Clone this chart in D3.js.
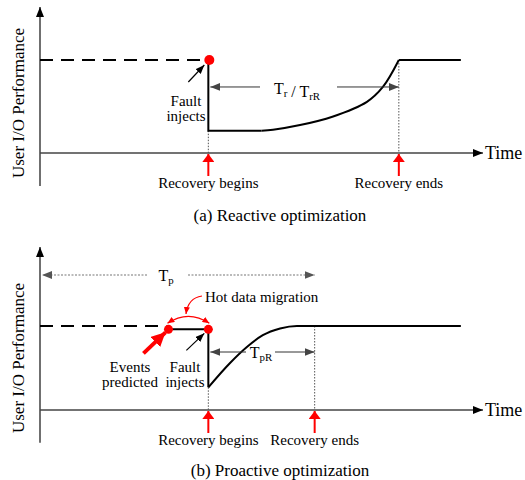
<!DOCTYPE html>
<html>
<head>
<meta charset="utf-8">
<script src="https://cdn.jsdelivr.net/npm/d3@7/dist/d3.min.js"></script>
<style>
  body { margin: 0; background: #fff; }
  svg text { font-family: "Liberation Serif", "Times New Roman", Times, "DejaVu Serif", serif; fill: #000; }
</style>
</head>
<body>
<div id="chart"></div>
<script>
// time in arbitrary units (0..100), performance normalised to 1 = normal level
const captions = ["(a) Reactive optimization", "(b) Proactive optimization"];
const yLabel = "User I/O Performance";
const xLabel = "Time";

const reactiveFault = 38;
const reactiveEnd = 81;
const reactiveLow = 0.24;
const reactiveRecovery = [[50, 0.24], [52.6, 0.25], [58.7, 0.30], [66, 0.39], [73.8, 0.55], [77.4, 0.71], [81, 1]];

const proactivePredict = 29;
const proactiveFault = 38;
const proactiveEnd = 62;
const proactiveMigrate = 0.96;
const proactiveRecovery = [[38, 0.27], [42.9, 0.56], [46.7, 0.75], [50.3, 0.89], [54.2, 0.97], [58, 1], [62, 1], [95, 1]];

const lineEnd = 95;

const width = 525;
const height = 480;

const x = d3.scaleLinear().domain([0, 100]).range([40, 483]);
const yA = d3.scaleLinear().domain([0, 1]).range([153, 60]);
const yB = d3.scaleLinear().domain([0, 1]).range([410, 326]);

const svg = d3.select("#chart").append("svg")
    .attr("width", width)
    .attr("height", height)
    .attr("font-family", "Liberation Serif, DejaVu Serif, serif");

const defs = svg.append("defs");
function marker(id, color, w, h) {
    defs.append("marker")
        .attr("id", id)
        .attr("viewBox", `0 0 ${w} ${h}`)
        .attr("refX", w)
        .attr("refY", h / 2)
        .attr("markerWidth", w)
        .attr("markerHeight", h)
        .attr("markerUnits", "userSpaceOnUse")
        .attr("orient", "auto-start-reverse")
        .append("path")
        .attr("d", `M0,0L${w},${h / 2}L0,${h}Z`)
        .attr("fill", color);
}
marker("axisHead", "#000", 10, 8);
marker("blackHead", "#000", 9, 7);
marker("grayHead", "#444", 10, 8);
marker("dotHead", "#555", 10, 8);
marker("redHead", "#f00", 8, 12);
marker("redSmall", "#f00", 7, 6);
marker("redBig", "#f00", 14, 14);

function subText(g, px, py, parts, size, anchor) {
    const t = g.append("text")
        .attr("x", px).attr("y", py)
        .attr("font-size", size)
        .attr("text-anchor", anchor || "middle");
    parts.forEach(p => {
        if (p.sub) {
            t.append("tspan").attr("font-size", size * 0.68).attr("dy", 3).text(p.t);
            t.append("tspan").attr("dy", -3).text("");
        } else {
            t.append("tspan").text(p.t);
        }
    });
    return t;
}

function drawFrame(y, yMin, yMax, labelY) {
    svg.append("line")
        .attr("x1", x(0)).attr("x2", x(0))
        .attr("y1", y(yMin)).attr("y2", y(yMax))
        .attr("stroke", "#222").attr("stroke-width", 1.3)
        .attr("marker-end", "url(#axisHead)");
    svg.append("line")
        .attr("x1", x(0)).attr("x2", x(100))
        .attr("y1", y(0)).attr("y2", y(0))
        .attr("stroke", "#444").attr("stroke-width", 1.3)
        .attr("marker-end", "url(#axisHead)");
    svg.append("text")
        .attr("x", x(100) + 2).attr("y", y(0) + 6)
        .attr("font-size", 18)
        .text(xLabel);
    svg.append("text")
        .attr("transform", `translate(24,${labelY}) rotate(-90)`)
        .attr("text-anchor", "middle")
        .attr("font-size", 17)
        .text(yLabel);
}

function recoveryMark(xv, y, label, textY) {
    svg.append("line")
        .attr("x1", x(xv)).attr("x2", x(xv))
        .attr("y1", y(0) + 23).attr("y2", y(0) + 1)
        .attr("stroke", "#f00").attr("stroke-width", 2)
        .attr("marker-end", "url(#redHead)");
    svg.append("text")
        .attr("x", x(xv)).attr("y", textY)
        .attr("text-anchor", "middle")
        .attr("font-size", 15)
        .text(label);
}

function guide(xv, y, from) {
    svg.append("line")
        .attr("x1", x(xv)).attr("x2", x(xv))
        .attr("y1", y(from)).attr("y2", y(0))
        .attr("stroke", "#555").attr("stroke-width", 1)
        .attr("stroke-dasharray", "1.5,1.5");
}

// ---------- (a) reactive ----------
drawFrame(yA, -0.355, 1.57, 103);

svg.append("line")
    .attr("x1", x(0)).attr("x2", x(reactiveFault) - 3)
    .attr("y1", yA(1)).attr("y2", yA(1))
    .attr("stroke", "#000").attr("stroke-width", 2)
    .attr("stroke-dasharray", "13,8");

guide(reactiveFault, yA, reactiveLow);
guide(reactiveEnd, yA, 1);

svg.append("path")
    .datum([[reactiveFault, 1], [reactiveFault, reactiveLow], [50, reactiveLow]])
    .attr("fill", "none").attr("stroke", "#000").attr("stroke-width", 2)
    .attr("d", d3.line().x(d => x(d[0])).y(d => yA(d[1])));
svg.append("path")
    .datum(reactiveRecovery)
    .attr("fill", "none").attr("stroke", "#000").attr("stroke-width", 2)
    .attr("d", d3.line().x(d => x(d[0])).y(d => yA(d[1])).curve(d3.curveCatmullRom.alpha(0.5)));
svg.append("path")
    .datum([[reactiveEnd, 1], [lineEnd, 1]])
    .attr("fill", "none").attr("stroke", "#000").attr("stroke-width", 2)
    .attr("d", d3.line().x(d => x(d[0])).y(d => yA(d[1])));

svg.append("circle")
    .attr("cx", x(reactiveFault) + 1).attr("cy", yA(1))
    .attr("r", 5).attr("fill", "#f00");

svg.append("line")
    .attr("x1", x(reactiveFault) - 20).attr("y1", yA(1) + 22)
    .attr("x2", x(reactiveFault) - 4).attr("y2", yA(1) + 5)
    .attr("stroke", "#000").attr("stroke-width", 1.2)
    .attr("marker-end", "url(#blackHead)");
svg.append("text").attr("x", 186).attr("y", 106).attr("text-anchor", "middle").attr("font-size", 15).text("Fault");
svg.append("text").attr("x", 186).attr("y", 121).attr("text-anchor", "middle").attr("font-size", 15).text("injects");

const spanA = yA(0.71);
svg.append("line")
    .attr("x1", 260).attr("x2", x(reactiveFault) + 2)
    .attr("y1", spanA).attr("y2", spanA)
    .attr("stroke", "#333").attr("stroke-width", 1)
    .attr("marker-end", "url(#grayHead)");
svg.append("line")
    .attr("x1", 337).attr("x2", x(reactiveEnd))
    .attr("y1", spanA).attr("y2", spanA)
    .attr("stroke", "#333").attr("stroke-width", 1)
    .attr("marker-end", "url(#grayHead)");
subText(svg, 297, spanA + 7, [{t: "T"}, {t: "r", sub: true}, {t: " / T"}, {t: "rR", sub: true}], 16);

recoveryMark(reactiveFault, yA, "Recovery begins", 188);
recoveryMark(reactiveEnd, yA, "Recovery ends", 188);

svg.append("text")
    .attr("x", 280).attr("y", 221)
    .attr("text-anchor", "middle").attr("font-size", 17)
    .text(captions[0]);

// ---------- (b) proactive ----------
drawFrame(yB, -0.39, 1.94, 358);

svg.append("line")
    .attr("x1", x(0)).attr("x2", x(proactivePredict) - 2)
    .attr("y1", yB(1)).attr("y2", yB(1))
    .attr("stroke", "#000").attr("stroke-width", 2)
    .attr("stroke-dasharray", "13,8");

guide(proactiveFault, yB, proactiveRecovery[0][1]);
guide(proactiveEnd, yB, 1);

svg.append("path")
    .datum([[proactivePredict, proactiveMigrate], [proactiveFault, proactiveMigrate], [proactiveFault, proactiveRecovery[0][1]]])
    .attr("fill", "none").attr("stroke", "#000").attr("stroke-width", 2)
    .attr("d", d3.line().x(d => x(d[0])).y(d => yB(d[1])));
svg.append("path")
    .datum(proactiveRecovery)
    .attr("fill", "none").attr("stroke", "#000").attr("stroke-width", 2)
    .attr("d", d3.line().x(d => x(d[0])).y(d => yB(d[1])).curve(d3.curveMonotoneX));

svg.append("circle").attr("cx", x(proactivePredict)).attr("cy", yB(proactiveMigrate)).attr("r", 4.5).attr("fill", "#f00");
svg.append("circle").attr("cx", x(proactiveFault)).attr("cy", yB(proactiveMigrate)).attr("r", 4.5).attr("fill", "#f00");

const ax0 = x(proactivePredict) - 1, ax1 = x(proactiveFault) + 1, ay = yB(proactiveMigrate) - 6;
svg.append("path")
    .attr("d", `M${ax0},${ay}Q${(ax0 + ax1) / 2},${ay - 14} ${ax1},${ay}`)
    .attr("fill", "none").attr("stroke", "#f00").attr("stroke-width", 1.2)
    .attr("marker-start", "url(#redSmall)")
    .attr("marker-end", "url(#redSmall)");
svg.append("path")
    .attr("d", `M202,296Q188,298 186,314`)
    .attr("fill", "none").attr("stroke", "#f00").attr("stroke-width", 1.2)
    .attr("marker-end", "url(#redSmall)");
svg.append("text").attr("x", 205).attr("y", 302).attr("font-size", 15).text("Hot data migration");

svg.append("line")
    .attr("x1", x(proactivePredict) - 25).attr("y1", yB(proactiveMigrate) + 24)
    .attr("x2", x(proactivePredict) - 3).attr("y2", yB(proactiveMigrate) + 3)
    .attr("stroke", "#f00").attr("stroke-width", 4)
    .attr("marker-end", "url(#redBig)");
svg.append("text").attr("x", 130).attr("y", 372).attr("text-anchor", "middle").attr("font-size", 15).text("Events");
svg.append("text").attr("x", 130).attr("y", 387).attr("text-anchor", "middle").attr("font-size", 15).text("predicted");

svg.append("line")
    .attr("x1", x(proactiveFault) - 22).attr("y1", yB(proactiveMigrate) + 21)
    .attr("x2", x(proactiveFault) - 4).attr("y2", yB(proactiveMigrate) + 4)
    .attr("stroke", "#000").attr("stroke-width", 1.2)
    .attr("marker-end", "url(#blackHead)");
svg.append("text").attr("x", 185).attr("y", 372).attr("text-anchor", "middle").attr("font-size", 15).text("Fault");
svg.append("text").attr("x", 185).attr("y", 387).attr("text-anchor", "middle").attr("font-size", 15).text("injects");

const spanB = 352;
svg.append("line")
    .attr("x1", 246).attr("x2", x(proactiveFault) + 2)
    .attr("y1", spanB).attr("y2", spanB)
    .attr("stroke", "#333").attr("stroke-width", 1)
    .attr("marker-end", "url(#grayHead)");
svg.append("line")
    .attr("x1", 275).attr("x2", x(proactiveEnd))
    .attr("y1", spanB).attr("y2", spanB)
    .attr("stroke", "#333").attr("stroke-width", 1)
    .attr("marker-end", "url(#grayHead)");
subText(svg, 261, spanB + 6, [{t: "T"}, {t: "pR", sub: true}], 16);

const spanP = 275;
svg.append("line")
    .attr("x1", 147).attr("x2", x(0) + 2)
    .attr("y1", spanP).attr("y2", spanP)
    .attr("stroke", "#777").attr("stroke-width", 1.2)
    .attr("stroke-dasharray", "2,1.5")
    .attr("marker-end", "url(#dotHead)");
svg.append("line")
    .attr("x1", 188).attr("x2", x(proactiveEnd))
    .attr("y1", spanP).attr("y2", spanP)
    .attr("stroke", "#777").attr("stroke-width", 1.2)
    .attr("stroke-dasharray", "2,1.5")
    .attr("marker-end", "url(#dotHead)");
subText(svg, 166, spanP + 6, [{t: "T"}, {t: "p", sub: true}], 16);

recoveryMark(proactiveFault, yB, "Recovery begins", 445);
recoveryMark(proactiveEnd, yB, "Recovery ends", 445);

svg.append("text")
    .attr("x", 280).attr("y", 476)
    .attr("text-anchor", "middle").attr("font-size", 17)
    .text(captions[1]);
</script>
</body>
</html>
